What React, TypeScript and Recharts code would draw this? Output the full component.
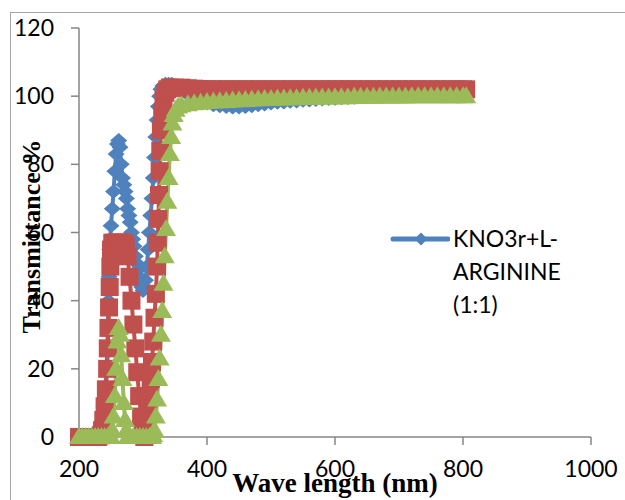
import React from "react";
import { LineChart, Line, XAxis, YAxis, Legend, Label } from "recharts";

const xTicks = [200, 400, 600, 800, 1000];
const yTicks = [0, 20, 40, 60, 80, 100, 120];

const BLUE = "#4F81BD";
const RED = "#C0504D";
const GREEN = "#9BBB59";

// [wavelength (nm), transmittance %]
const kno3Arginine: [number, number][] = [
  [200, 0], [205, 0], [210, 0], [215, 0], [220, 0], [225, 0], [230, 0],
  [233, 0.5], [235, 2], [237, 5], [239, 9], [241, 14], [243, 20], [244, 25],
  [245, 32], [246, 40], [247, 47], [248, 55], [250, 62], [252, 67], [254, 72],
  [256, 78], [258, 83], [260, 86], [262, 87], [264, 85], [266, 80], [268, 76],
  [270, 74], [272, 72], [274, 70], [276, 67], [278, 65], [280, 63], [282, 60],
  [284, 58], [286, 56], [288, 53], [290, 51], [292, 49], [294, 47], [296, 45],
  [298, 44], [300, 43], [302, 44], [304, 46], [306, 50], [308, 55], [310, 60],
  [312, 65], [314, 70], [316, 76], [318, 82], [320, 88], [322, 93], [324, 97],
  [326, 100], [328, 102], [331, 103], [335, 103.5], [340, 103.5], [345, 103.5],
  [350, 103], [355, 102.5], [360, 102], [370, 100.5], [380, 99.5], [390, 98.5],
  [400, 98], [410, 97.5], [420, 97.2], [430, 97], [440, 96.8], [450, 96.8],
  [460, 97], [470, 97.2], [480, 97.5], [490, 97.7], [500, 98], [510, 98.2],
  [520, 98.3], [530, 98.5], [540, 98.6], [550, 98.8], [560, 98.9], [570, 99],
  [580, 99.2], [590, 99.3], [600, 99.4], [610, 99.5], [620, 99.6], [630, 99.7],
  [640, 99.8], [650, 99.9], [660, 100], [670, 100.1], [680, 100.2], [690, 100.3],
  [700, 100.4], [710, 100.5], [720, 100.6], [730, 100.7], [740, 100.8],
  [750, 100.9], [760, 101], [770, 101], [780, 101.1], [790, 101.1], [800, 101.2],
];

const series2: [number, number][] = [
  [200, 0], [205, 0], [210, 0], [215, 0], [220, 0], [225, 0], [230, 0],
  [234, 0.5], [236, 2], [238, 5], [240, 9], [242, 14], [244, 20], [245, 26],
  [246, 32], [247, 38], [248, 44], [249, 50], [250, 55], [252, 57], [255, 57],
  [258, 57], [261, 57], [264, 57], [267, 57], [270, 57], [273, 56], [276, 53],
  [279, 47], [282, 40], [285, 33], [288, 26], [291, 19], [294, 12], [297, 6],
  [300, 1], [302, 0], [304, 0.5], [306, 3], [308, 7], [310, 12], [312, 17],
  [314, 22], [316, 28], [318, 35], [320, 42], [322, 50], [323, 57], [324, 64],
  [325, 71], [326, 78], [327, 84], [328, 90], [330, 95], [332, 99], [335, 101],
  [338, 102], [342, 102.5], [350, 102.5], [360, 102.5], [370, 102.3],
  [380, 102.2], [390, 102.1], [400, 102], [410, 102], [420, 102], [430, 102],
  [440, 102], [450, 102], [460, 102], [470, 102], [480, 102], [490, 102],
  [500, 102], [510, 102], [520, 102], [530, 102], [540, 102], [550, 102],
  [560, 102], [570, 102], [580, 102], [590, 102], [600, 102], [610, 102],
  [620, 102], [630, 102], [640, 102], [650, 102], [660, 102], [670, 102],
  [680, 102], [690, 102], [700, 102], [710, 102], [720, 102], [730, 102],
  [740, 102], [750, 102], [760, 102], [770, 102], [780, 102], [790, 102],
  [800, 102], [805, 102],
];

const series3: [number, number][] = [
  [200, 0], [205, 0], [210, 0], [215, 0], [220, 0], [225, 0], [230, 0],
  [235, 0], [240, 0], [245, 0], [250, 0], [252, 2], [254, 6], [256, 12],
  [258, 20], [260, 28], [262, 32], [264, 30], [266, 24], [268, 17], [270, 10],
  [272, 5], [274, 2], [276, 0], [280, 0], [285, 0], [290, 0], [295, 0],
  [300, 0], [305, 0], [310, 0], [314, 0], [316, 0.5], [318, 2], [320, 6],
  [322, 11], [324, 17], [326, 23], [328, 30], [330, 37], [332, 45], [334, 53],
  [336, 61], [338, 69], [340, 76], [342, 83], [344, 88], [346, 92], [348, 94.5],
  [351, 96], [355, 97], [360, 97.3], [370, 97.6], [380, 97.9], [390, 98.1],
  [400, 98.3], [410, 98.4], [420, 98.5], [430, 98.6], [440, 98.7], [450, 98.8],
  [460, 98.9], [470, 99], [480, 99.1], [490, 99.2], [500, 99.2], [510, 99.3],
  [520, 99.3], [530, 99.4], [540, 99.4], [550, 99.5], [560, 99.5], [570, 99.6],
  [580, 99.6], [590, 99.6], [600, 99.7], [610, 99.7], [620, 99.7], [630, 99.8],
  [640, 99.8], [650, 99.8], [660, 99.8], [670, 99.9], [680, 99.9], [690, 99.9],
  [700, 99.9], [710, 99.9], [720, 100], [730, 100], [740, 100], [750, 100],
  [760, 100], [770, 100], [780, 100], [790, 100], [800, 100], [805, 100],
];

const toRows = (pts: [number, number][]) => pts.map(([nm, t]) => ({ nm, t }));

const diamondPath = (cx: number, cy: number, w: number, h: number) =>
  `M${cx},${cy - h / 2}L${cx + w / 2},${cy}L${cx},${cy + h / 2}L${cx - w / 2},${cy}Z`;

const diamondDot = (p: any) =>
  p.cx == null || p.cy == null ? (
    <g key={p.index} />
  ) : (
    <path key={p.index} d={diamondPath(p.cx, p.cy, 17, 15)} fill={BLUE} />
  );

const squareDot = (p: any) =>
  p.cx == null || p.cy == null ? (
    <g key={p.index} />
  ) : (
    <rect key={p.index} x={p.cx - 9} y={p.cy - 9} width={18} height={18} fill={RED} />
  );

const triangleDot = (p: any) =>
  p.cx == null || p.cy == null ? (
    <g key={p.index} />
  ) : (
    <path
      key={p.index}
      d={`M${p.cx},${p.cy - 10}L${p.cx + 10},${p.cy + 7}L${p.cx - 10},${p.cy + 7}Z`}
      fill={GREEN}
    />
  );

function LegendBox({ payload }: any) {
  const items = (payload || []).filter((e: any) => e.type !== "none");
  return (
    <div>
      {items.map((e: any) => (
        <div key={e.value} style={{ display: "flex", alignItems: "flex-start" }}>
          <svg width={60} height={33}>
            <line x1={3} y1={17} x2={58} y2={17} stroke={e.color} strokeWidth={5} strokeLinecap="round" />
            <path d={diamondPath(31, 17, 13, 13)} fill={e.color} />
          </svg>
          <div
            style={{
              width: 116,
              marginLeft: 3,
              fontFamily: "Lato",
              fontSize: 23,
              lineHeight: "33px",
              color: "#000",
            }}
          >
            {e.value}
          </div>
        </div>
      ))}
    </div>
  );
}

function YTitle({ viewBox }: any) {
  const x = viewBox.x + 31;
  const y = viewBox.y + viewBox.height / 2 + 4;
  return (
    <text
      x={x}
      y={y}
      transform={`rotate(-90, ${x}, ${y})`}
      textAnchor="middle"
      dominantBaseline="central"
      fontFamily="Liberation Serif"
      fontWeight="bold"
      fontSize={26}
      fill="#000"
    >
      Transmittance %
    </text>
  );
}

const tickStyle = { fontSize: 23, fontFamily: "Lato", fill: "#000" };
const axisStroke = { stroke: "#868686", strokeWidth: 1.5 };

export default function App() {
  return (
    <div
      style={{
        position: "absolute",
        left: 0,
        top: 0,
        width: 625,
        height: 500,
        overflow: "hidden",
        background: "#fff",
      }}
    >
      <div
        style={{
          position: "absolute",
          left: 10,
          top: 12,
          width: 700,
          height: 600,
          border: "1px solid #a6a6a6",
        }}
      />
      <LineChart
        width={625}
        height={500}
        margin={{ top: 28, right: 34, bottom: 0, left: 0 }}
        style={{ position: "absolute", left: 0, top: 0 }}
      >
        <XAxis
          type="number"
          dataKey="nm"
          domain={[200, 1000]}
          ticks={xTicks}
          height={63}
          tickSize={8}
          tickMargin={16}
          axisLine={axisStroke}
          tickLine={axisStroke}
          tick={tickStyle}
        >
          <Label
            value="Wave length (nm)"
            position="insideBottom"
            offset={8}
            style={{
              fontFamily: "Liberation Serif",
              fontWeight: "bold",
              fontSize: 27,
              fill: "#000",
            }}
          />
        </XAxis>
        <YAxis
          type="number"
          domain={[0, 120]}
          ticks={yTicks}
          width={79}
          tickSize={8}
          tickMargin={17}
          axisLine={axisStroke}
          tickLine={axisStroke}
          tick={tickStyle}
        >
          <Label content={<YTitle />} />
        </YAxis>
        <Legend
          layout="vertical"
          align="center"
          verticalAlign="middle"
          wrapperStyle={{ left: 390, top: 222, width: 230 }}
          content={(props: any) => <LegendBox payload={props.payload} />}
        />
        <Line
          data={toRows(kno3Arginine)}
          dataKey="t"
          name="KNO3r+L-ARGININE (1:1)"
          stroke={BLUE}
          strokeWidth={4}
          dot={diamondDot}
          isAnimationActive={false}
        />
        <Line
          data={toRows(series2)}
          dataKey="t"
          name="Series2"
          legendType="none"
          stroke={RED}
          strokeWidth={4}
          dot={squareDot}
          isAnimationActive={false}
        />
        <Line
          data={toRows(series3)}
          dataKey="t"
          name="Series3"
          legendType="none"
          stroke={GREEN}
          strokeWidth={4}
          dot={triangleDot}
          isAnimationActive={false}
        />
      </LineChart>
    </div>
  );
}
